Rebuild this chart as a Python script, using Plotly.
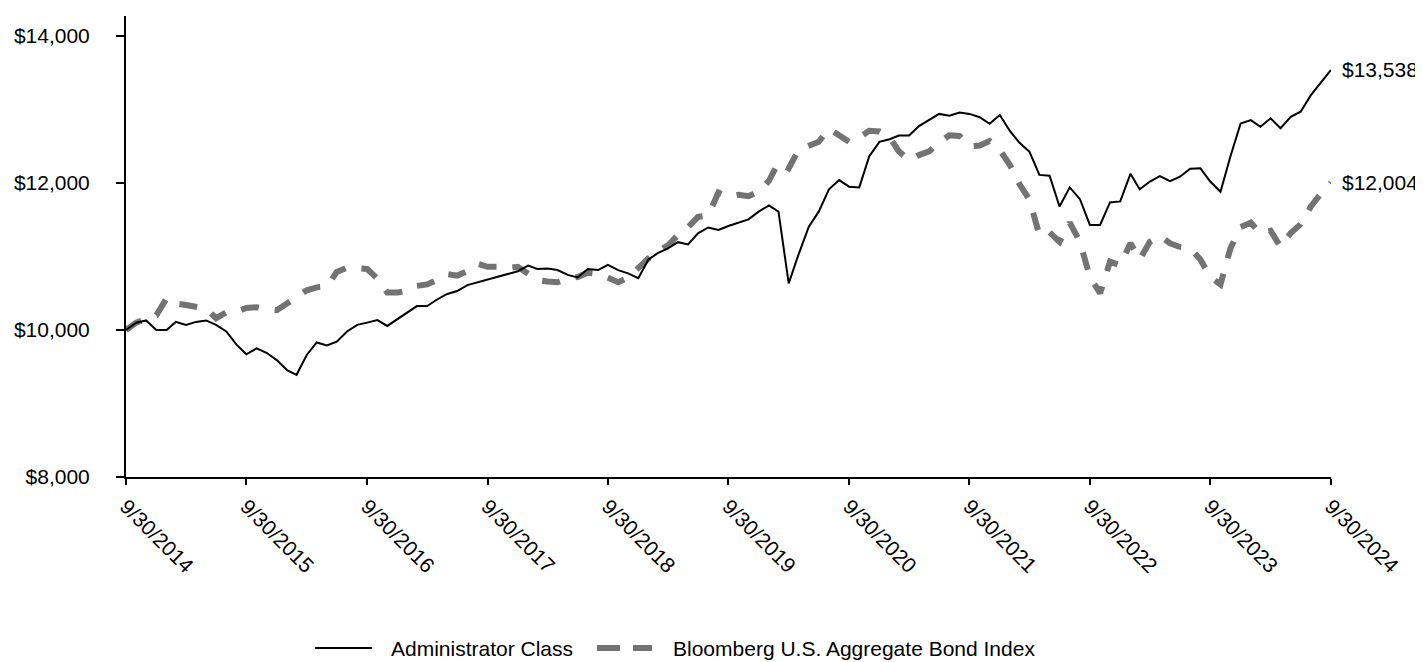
import pandas as pd
import plotly.graph_objects as go

dates = pd.date_range("2014-09-30", "2024-09-30", freq="ME")

admin_class = [
    10000, 10100, 10130, 10000, 10000, 10110, 10070, 10110, 10130, 10070, 9980, 9800,
    9670, 9750, 9690, 9590, 9455, 9390, 9660, 9830, 9790, 9840, 9980, 10070,
    10100, 10135, 10055, 10145, 10235, 10325, 10325, 10415, 10490, 10530, 10610, 10650,
    10690, 10725, 10760, 10800, 10875, 10830, 10835, 10815, 10750, 10715, 10830, 10815,
    10885, 10815, 10770, 10705, 10960, 11045, 11110, 11195, 11165, 11315, 11395, 11360,
    11415, 11465, 11505, 11610, 11695, 11610, 10635, 11030, 11405, 11610, 11915, 12040,
    11950, 11940, 12360, 12560, 12595, 12645, 12645, 12775, 12865, 12940, 12915, 12960,
    12940, 12895, 12805, 12925, 12705, 12550, 12425, 12110, 12100, 11680, 11940, 11780,
    11430, 11430, 11735, 11750, 12125, 11915, 12020, 12095, 12025, 12085, 12195, 12200,
    12020, 11880, 12360, 12810, 12855, 12765, 12880, 12745, 12900, 12970, 13195, 13365,
    13538,
]

bond_index = [
    10000, 10100, 10150, 10200, 10430, 10360, 10340, 10310, 10290, 10160, 10240, 10250,
    10300, 10310, 10280, 10270, 10370, 10460, 10540, 10580, 10590, 10790, 10850, 10840,
    10830, 10700, 10510, 10510, 10530, 10600, 10620, 10680, 10760, 10740, 10800, 10900,
    10860, 10860, 10840, 10860, 10760, 10680, 10660, 10650, 10700, 10720, 10780, 10760,
    10710, 10650, 10710, 10850, 10975, 11070, 11150, 11290, 11400, 11540, 11560, 11870,
    11810, 11840, 11820, 11880, 12030, 12280, 12200, 12450, 12500, 12560, 12740, 12650,
    12560, 12620, 12710, 12700, 12620, 12430, 12310, 12380, 12430, 12550, 12650, 12640,
    12500, 12510, 12570, 12450, 12240, 11990, 11770, 11290, 11330, 11200, 11460, 11200,
    10720, 10500, 10930, 10880, 11180, 10960, 11200, 11280, 11180, 11130, 11110, 10960,
    10720, 10620, 11110, 11400, 11460, 11310, 11350, 11130, 11320, 11440, 11680, 11860,
    12004,
]

series_names = ["Administrator Class", "Bloomberg U.S. Aggregate Bond Index"]
tick_dates = pd.date_range("2014-09-30", "2024-09-30", freq="12ME")
tick_labels = [f"{d.month}/{d.day}/{d.year}" for d in tick_dates]
y_ticks = [8000, 10000, 12000, 14000]
y_tick_labels = ["$8,000", "$10,000", "$12,000", "$14,000"]

FONT = "Liberation Sans, Arial, sans-serif"
FS = 21
GRAY = "rgb(115,115,115)"

fig = go.Figure()
fig.add_trace(go.Scatter(
    x=dates, y=bond_index, mode="lines", name=series_names[1],
    line=dict(color=GRAY, width=6, dash="18px,16px"), showlegend=False,
))
fig.add_trace(go.Scatter(
    x=dates, y=admin_class, mode="lines", name=series_names[0],
    line=dict(color="black", width=2), showlegend=False,
))

# end-value labels
for vals in (admin_class, bond_index):
    fig.add_annotation(
        x=dates[-1], y=vals[-1], text=f"${vals[-1]:,}", showarrow=False,
        xanchor="left", yanchor="middle", xshift=9,
        font=dict(family=FONT, size=FS, color="black"),
    )

# page body has an 8px margin: figure origin sits at screen (8, 8)
OFF = 8
W, H = 1423 - OFF, 662 - OFF
L, T = 126 - OFF, 16 - OFF
pw = 1331 - 126
ph = 477 - 16
R = W - L - pw
B = H - T - ph

def px(x):
    return (x - OFF - L) / pw
def py(y):
    return (T + ph - (y - OFF)) / ph

ly = 648
fig.add_shape(type="line", xref="paper", yref="paper", x0=px(315), x1=px(372), y0=py(ly), y1=py(ly),
              line=dict(color="black", width=2))
fig.add_shape(type="line", xref="paper", yref="paper", x0=px(597), x1=px(652), y0=py(ly), y1=py(ly),
              line=dict(color=GRAY, width=6, dash="23px,13px"))
fig.add_annotation(xref="paper", yref="paper", x=px(389), y=py(ly), text=series_names[0],
                   showarrow=False, xanchor="left", yanchor="middle",
                   font=dict(family=FONT, size=FS, color="black"))
fig.add_annotation(xref="paper", yref="paper", x=px(671), y=py(ly), text=series_names[1],
                   showarrow=False, xanchor="left", yanchor="middle",
                   font=dict(family=FONT, size=FS, color="black"))

fig.update_layout(
    width=W, height=H,
    margin=dict(l=L, r=R, t=T, b=B, autoexpand=False),
    paper_bgcolor="white", plot_bgcolor="white",
    font=dict(family=FONT, size=FS, color="black"),
    xaxis=dict(
        range=[dates[0], dates[-1]],
        tickvals=list(tick_dates), ticktext=tick_labels,
        tickangle=45, ticks="outside", ticklen=6, tickwidth=2, tickcolor="black",
        showline=True, linecolor="black", linewidth=2,
        showgrid=False, zeroline=False, ticklabelstandoff=1,
    ),
    yaxis=dict(
        range=[8000, 14272], tickvals=y_ticks, ticktext=y_tick_labels,
        ticks="outside", ticklen=8, tickwidth=2, tickcolor="black",
        showline=True, linecolor="black", linewidth=2,
        showgrid=False, zeroline=False, ticklabelstandoff=22,
    ),
)

fig.write_html("out.html")
